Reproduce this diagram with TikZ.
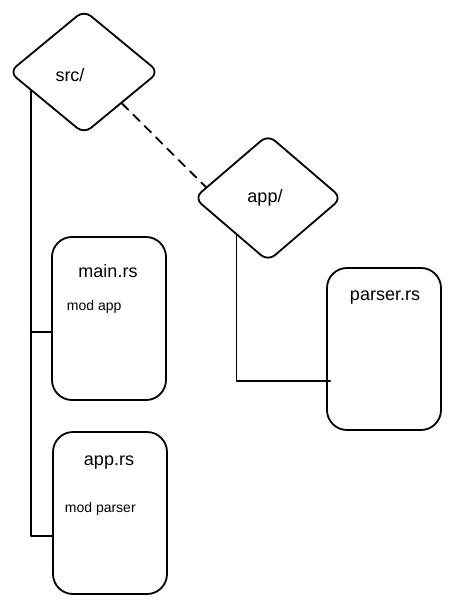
\documentclass[tikz,border=0pt]{standalone}
\usepackage{fontspec}
\setmainfont{Liberation Sans}
\usetikzlibrary{shapes.geometric,calc}
\begin{document}
\begin{tikzpicture}[x=1pt,y=-1pt,
  line width=1.8pt, line join=round, line cap=round,
  dirbox/.style={draw, shape=diamond, rounded corners=9pt, inner sep=0pt},
  filebox/.style={draw, rectangle, rounded corners=20pt, inner sep=0pt},
  title/.style={font=\fontsize{18}{21}\selectfont, inner sep=0pt},
  body/.style={font=\fontsize{14}{17}\selectfont, inner sep=0pt, anchor=west},
  conn/.style={draw, line width=1.8pt}]
\useasboundingbox (0,0) rectangle (450,604);
% directories
\node[dirbox, minimum width=150pt, minimum height=124pt, aspect=1.2] (src) at (84,72) {};
\node[title] (srclabel) at (70,75) {src/};
\node[dirbox, minimum width=148pt, minimum height=127pt, aspect=1.17] (app) at (268,198) {};
\node[title] (applabel) at (265,198) {app/};
% files
\node[filebox, minimum width=114pt, minimum height=163pt] (main) at (109,318.5) {};
\node[title] (maintitle) at (108,271) {main.rs};
\node[body] (mainbody) at (66,307) {mod app};
\node[filebox, minimum width=114pt, minimum height=162pt] (apprs) at (110,513) {};
\node[title] (apprstitle) at (109,463) {app.rs};
\node[body] (apprsbody) at (64,509) {mod parser};
\node[filebox, minimum width=114pt, minimum height=162pt] (parser) at (384,349) {};
\node[title] (parsertitle) at (385,298) {parser.rs};
% connectors
\coordinate (srcfoot) at ($(src.west)!0.3!(src.south)$);
\coordinate (mainhook) at (main.west |- 0,332);
\coordinate (apphook) at (apprs.west |- 0,536);
\draw[conn] (srcfoot) -- (srcfoot |- apphook) -- (apphook);
\draw[conn] (srcfoot |- mainhook) -- (mainhook);
\coordinate (appfoot) at ($(app.west)!0.58!(app.south)$);
\coordinate (parserhook) at ($(parser.west |- 0,381)+(4,0)$);
\draw[conn] (appfoot) -- (appfoot |- parserhook) -- (parserhook);
\draw[conn, dashed, dash pattern=on 9pt off 7pt] ($(src.east)!0.5!(src.south)$) -- ($(app.west)!0.17!(app.north)$);
\end{tikzpicture}
\end{document}
